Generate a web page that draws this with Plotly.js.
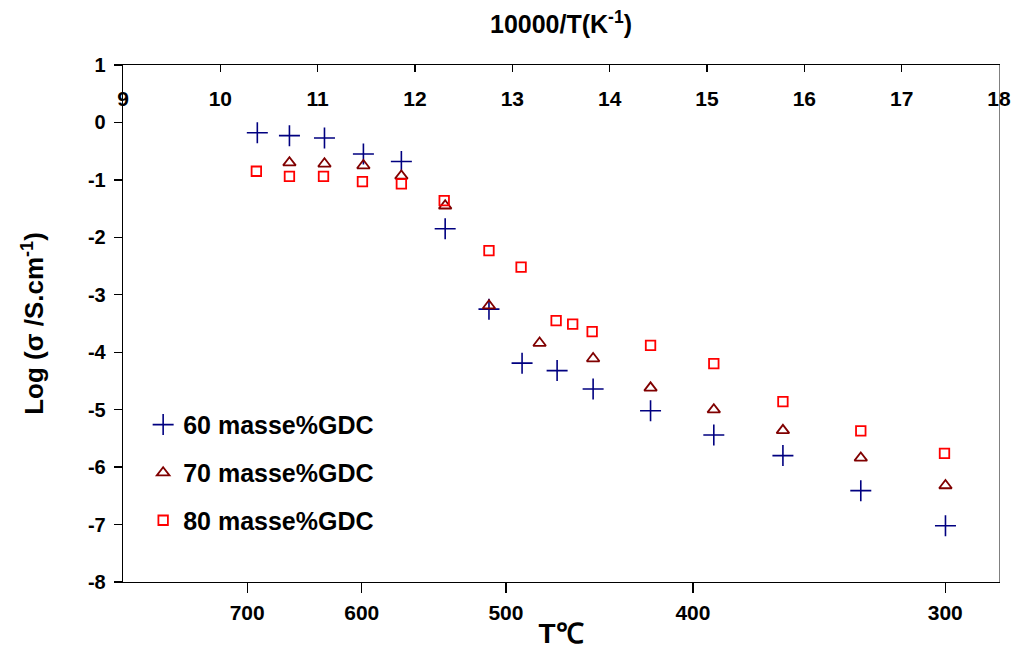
<!DOCTYPE html>
<html>
<head>
<meta charset="utf-8">
<script src="https://cdn.plot.ly/plotly-3.0.1.min.js"></script>
<style>html,body{margin:0;padding:0;background:#fff;}#chart{width:1014px;height:653px;}</style>
</head>
<body>
<div id="chart"></div>
<script>
// 10000/T (K^-1) and Log(sigma / S.cm^-1)
const invT_60 = [10.38, 10.71, 11.07, 11.47, 11.86, 12.31, 12.76, 13.10, 13.46, 13.83, 14.42, 15.07, 15.78, 16.58, 17.45];
const logS_60 = [-0.18, -0.23, -0.27, -0.55, -0.68, -1.85, -3.25, -4.19, -4.32, -4.64, -5.02, -5.44, -5.80, -6.41, -7.02];

const invT_70 = [10.71, 11.07, 11.47, 11.86, 12.31, 12.76, 13.28, 13.83, 14.42, 15.07, 15.78, 16.58, 17.45];
const logS_70 = [-0.70, -0.72, -0.75, -0.93, -1.45, -3.19, -3.84, -4.11, -4.62, -5.00, -5.36, -5.84, -6.32];

const invT_80 = [10.37, 10.71, 11.06, 11.46, 11.86, 12.30, 12.76, 13.09, 13.45, 13.62, 13.82, 14.42, 15.07, 15.78, 16.58, 17.44];
const logS_80 = [-0.85, -0.94, -0.94, -1.03, -1.07, -1.36, -2.23, -2.52, -3.45, -3.51, -3.64, -3.88, -4.20, -4.86, -5.37, -5.76];

const seriesNames = ['60 masse%GDC', '70 masse%GDC', '80 masse%GDC'];
const tempLabels = [700, 600, 500, 400, 300];   // bottom axis, T in °C
const topTicks = [9, 10, 11, 12, 13, 14, 15, 16, 17, 18];
const yTicks = [1, 0, -1, -2, -3, -4, -5, -6, -7, -8];

const FONT = 'Liberation Sans, Arial, Helvetica, sans-serif';
const tempTickVals = tempLabels.map(t => 10000 / (t + 273.15));

const traces = [
  {x: invT_60, y: logS_60, name: seriesNames[0], legend: 'legend', type: 'scatter', mode: 'markers',
   marker: {symbol: 'cross-thin-open', size: 15, color: '#000080', line: {color: '#000080', width: 1.6}}},
  {x: invT_70, y: logS_70, name: seriesNames[1], legend: 'legend2', type: 'scatter', mode: 'markers',
   marker: {symbol: 'triangle-up-open', size: 11, color: '#800000', line: {color: '#800000', width: 1.8}}},
  {x: invT_80, y: logS_80, name: seriesNames[2], legend: 'legend3', type: 'scatter', mode: 'markers',
   marker: {symbol: 'square-open', size: 9.5, color: '#ff0000', line: {color: '#ff0000', width: 1.8}}},
  // empty helper trace so the top and right axes are drawn
  {x: [], y: [], xaxis: 'x2', yaxis: 'y2', type: 'scatter', mode: 'markers', showlegend: false, hoverinfo: 'skip'}
];

function legendAt(yPaper) {
  return {x: 0.023, y: yPaper, xanchor: 'left', yanchor: 'middle', bgcolor: 'rgba(0,0,0,0)',
          font: {family: FONT, size: 25, color: '#000', weight: 'bold'}, itemclick: false};
}

const layout = {
  width: 1014, height: 653,
  margin: {l: 123, r: 15, t: 65, b: 71},
  paper_bgcolor: '#fff', plot_bgcolor: '#fff',
  showlegend: true,
  legend: legendAt(0.304),
  legend2: legendAt(0.211),
  legend3: legendAt(0.119),
  xaxis: {
    range: [9, 18], showgrid: false, zeroline: false,
    showline: true, linecolor: '#000', linewidth: 1.3,
    tickmode: 'array', tickvals: tempTickVals, ticktext: tempLabels.map(String),
    ticks: 'outside', ticklen: 10, tickwidth: 1.3, tickcolor: '#000',
    ticklabelstandoff: 1,
    tickfont: {family: FONT, size: 21, color: '#000', weight: 'bold'},
    title: {text: 'T℃', standoff: 1, font: {family: FONT, size: 28, color: '#000', weight: 'bold'}}
  },
  xaxis2: {
    overlaying: 'x', side: 'top', anchor: 'y2', range: [9, 18], showgrid: false, zeroline: false,
    showline: true, linecolor: '#000', linewidth: 1.3,
    tickmode: 'array', tickvals: topTicks, ticktext: topTicks.map(String),
    ticks: 'inside', ticklen: 7, tickwidth: 1.3, tickcolor: '#000',
    ticklabelposition: 'inside', ticklabelstandoff: 21, ticklabeloverflow: 'allow',
    tickfont: {family: FONT, size: 21, color: '#000', weight: 'bold'},
    title: {text: '10000/T(K<sup>-1</sup>)', standoff: 46, font: {family: FONT, size: 25, color: '#000', weight: 'bold'}}
  },
  yaxis: {
    range: [-8, 1], showgrid: false, zeroline: false,
    showline: true, linecolor: '#000', linewidth: 1.3,
    tickmode: 'array', tickvals: yTicks, ticktext: yTicks.map(String),
    ticks: 'outside', ticklen: 8, tickwidth: 1.3, tickcolor: '#000',
    ticklabelstandoff: 4,
    tickfont: {family: FONT, size: 20, color: '#000', weight: 'bold'},
    title: {text: 'Log (σ /S.cm<sup>-1</sup>)', standoff: 36, font: {family: FONT, size: 26, color: '#000', weight: 'bold'}}
  },
  yaxis2: {
    overlaying: 'y', side: 'right', anchor: 'x2', range: [-8, 1], showgrid: false, zeroline: false,
    showline: true, linecolor: '#808080', linewidth: 1.3, ticks: '', showticklabels: false
  }
};

Plotly.newPlot('chart', traces, layout, {displayModeBar: false, staticPlot: true});
</script>
</body>
</html>
